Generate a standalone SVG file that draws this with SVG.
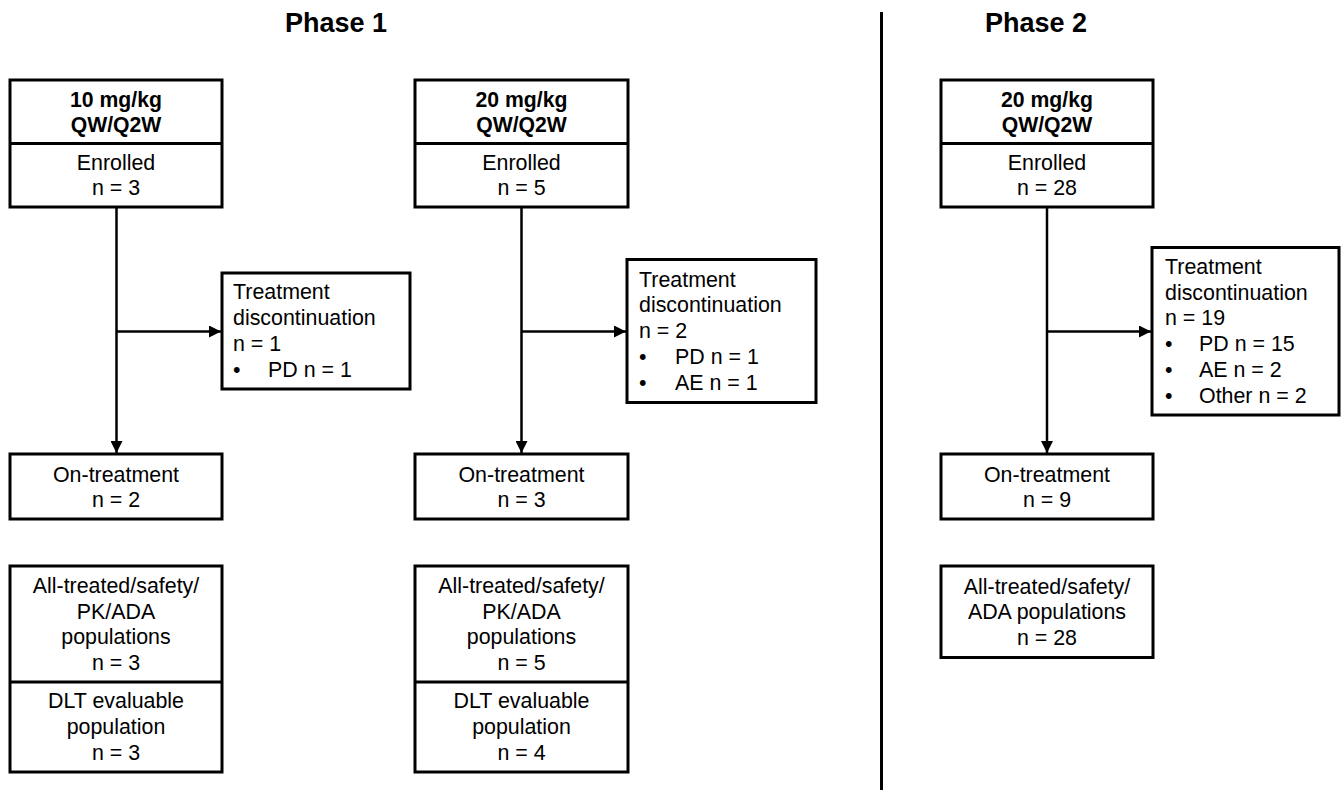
<svg xmlns="http://www.w3.org/2000/svg" width="1341" height="790" viewBox="0 0 1341 790">
<defs>
<style>
.box{fill:#fff;stroke:#000;stroke-width:3}
.div{stroke:#000;stroke-width:3}
.t{font-family:"Liberation Sans",Arial,sans-serif;font-size:21.4px;fill:#000}
.c{text-anchor:middle}
.b{font-weight:bold;font-size:21.2px}
.ph{font-family:"Liberation Sans",Arial,sans-serif;font-size:27px;font-weight:bold;text-anchor:middle;fill:#000}
.con{stroke:#000;stroke-width:2.5;fill:none}
</style>
<marker id="arr" markerUnits="userSpaceOnUse" markerWidth="12" markerHeight="12" viewBox="0 0 10 10" refX="10" refY="5" orient="auto">
<path d="M0,0 L10,5 L0,10 Z" fill="#000"/>
</marker>
</defs>
<rect width="1341" height="790" fill="#fff"/>

<text class="ph" x="336" y="32">Phase 1</text>
<text class="ph" x="1036" y="32">Phase 2</text>
<line class="div" x1="881.5" y1="12" x2="881.5" y2="790"/>

<g id="connectors">
<line class="con" x1="116.5" y1="207" x2="116.5" y2="453" marker-end="url(#arr)"/>
<line class="con" x1="116.5" y1="331.5" x2="221" y2="331.5" marker-end="url(#arr)"/>
<line class="con" x1="521.5" y1="207" x2="521.5" y2="453" marker-end="url(#arr)"/>
<line class="con" x1="521.5" y1="331.5" x2="626" y2="331.5" marker-end="url(#arr)"/>
<line class="con" x1="1047" y1="207" x2="1047" y2="453" marker-end="url(#arr)"/>
<line class="con" x1="1047" y1="331.5" x2="1151" y2="331.5" marker-end="url(#arr)"/>
</g>

<!-- Phase 1, 10 mg/kg -->
<g id="p1a-enrolled">
<rect class="box" x="10" y="80" width="212" height="127"/>
<line class="div" x1="10" y1="143.5" x2="222" y2="143.5"/>
<text class="t c b" x="116" y="106.5">10 mg/kg</text>
<text class="t c b" x="116" y="131.5">QW/Q2W</text>
<text class="t c" x="116" y="170">Enrolled</text>
<text class="t c" x="116" y="195">n = 3</text>
</g>
<g id="p1a-disc">
<rect class="box" x="222" y="273" width="188" height="116"/>
<text class="t" x="233" y="298.5">Treatment</text>
<text class="t" x="233" y="324.5">discontinuation</text>
<text class="t" x="233" y="350.5">n = 1</text>
<text class="t" x="233" y="376.5">•</text><text class="t" x="268" y="376.5">PD n = 1</text>
</g>
<g id="p1a-on">
<rect class="box" x="10" y="454" width="212" height="65"/>
<text class="t c" x="116" y="481.5">On-treatment</text>
<text class="t c" x="116" y="506.5">n = 2</text>
</g>
<g id="p1a-pop">
<rect class="box" x="10" y="566" width="212" height="206"/>
<line class="div" x1="10" y1="682" x2="222" y2="682"/>
<text class="t c" x="116" y="593">All-treated/safety/</text>
<text class="t c" x="116" y="619">PK/ADA</text>
<text class="t c" x="116" y="644">populations</text>
<text class="t c" x="116" y="670">n = 3</text>
<text class="t c" x="116" y="708">DLT evaluable</text>
<text class="t c" x="116" y="733.5">population</text>
<text class="t c" x="116" y="759.5">n = 3</text>
</g>

<!-- Phase 1, 20 mg/kg -->
<g id="p1b-enrolled">
<rect class="box" x="415" y="80" width="213" height="127"/>
<line class="div" x1="415" y1="143.5" x2="628" y2="143.5"/>
<text class="t c b" x="521.5" y="106.5">20 mg/kg</text>
<text class="t c b" x="521.5" y="131.5">QW/Q2W</text>
<text class="t c" x="521.5" y="170">Enrolled</text>
<text class="t c" x="521.5" y="195">n = 5</text>
</g>
<g id="p1b-disc">
<rect class="box" x="627" y="259.5" width="189" height="143"/>
<text class="t" x="639" y="286.5">Treatment</text>
<text class="t" x="639" y="312">discontinuation</text>
<text class="t" x="639" y="338">n = 2</text>
<text class="t" x="639" y="364">•</text><text class="t" x="675" y="364">PD n = 1</text>
<text class="t" x="639" y="390">•</text><text class="t" x="675" y="390">AE n = 1</text>
</g>
<g id="p1b-on">
<rect class="box" x="415" y="454" width="213" height="65"/>
<text class="t c" x="521.5" y="481.5">On-treatment</text>
<text class="t c" x="521.5" y="506.5">n = 3</text>
</g>
<g id="p1b-pop">
<rect class="box" x="415" y="566" width="213" height="206"/>
<line class="div" x1="415" y1="682" x2="628" y2="682"/>
<text class="t c" x="521.5" y="593">All-treated/safety/</text>
<text class="t c" x="521.5" y="619">PK/ADA</text>
<text class="t c" x="521.5" y="644">populations</text>
<text class="t c" x="521.5" y="670">n = 5</text>
<text class="t c" x="521.5" y="708">DLT evaluable</text>
<text class="t c" x="521.5" y="733.5">population</text>
<text class="t c" x="521.5" y="759.5">n = 4</text>
</g>

<!-- Phase 2 -->
<g id="p2-enrolled">
<rect class="box" x="941" y="80" width="212" height="127"/>
<line class="div" x1="941" y1="143.5" x2="1153" y2="143.5"/>
<text class="t c b" x="1047" y="106.5">20 mg/kg</text>
<text class="t c b" x="1047" y="131.5">QW/Q2W</text>
<text class="t c" x="1047" y="170">Enrolled</text>
<text class="t c" x="1047" y="195">n = 28</text>
</g>
<g id="p2-disc">
<rect class="box" x="1152" y="247.5" width="187" height="167.5"/>
<text class="t" x="1165" y="273.5">Treatment</text>
<text class="t" x="1165" y="299.5">discontinuation</text>
<text class="t" x="1165" y="325">n = 19</text>
<text class="t" x="1165" y="351">•</text><text class="t" x="1199" y="351">PD n = 15</text>
<text class="t" x="1165" y="377">•</text><text class="t" x="1199" y="377">AE n = 2</text>
<text class="t" x="1165" y="402.5">•</text><text class="t" x="1199" y="402.5">Other n = 2</text>
</g>
<g id="p2-on">
<rect class="box" x="941" y="454" width="212" height="65"/>
<text class="t c" x="1047" y="481.5">On-treatment</text>
<text class="t c" x="1047" y="506.5">n = 9</text>
</g>
<g id="p2-pop">
<rect class="box" x="941" y="566" width="212" height="91.5"/>
<text class="t c" x="1047" y="593.5">All-treated/safety/</text>
<text class="t c" x="1047" y="619">ADA populations</text>
<text class="t c" x="1047" y="644.5">n = 28</text>
</g>
</svg>
